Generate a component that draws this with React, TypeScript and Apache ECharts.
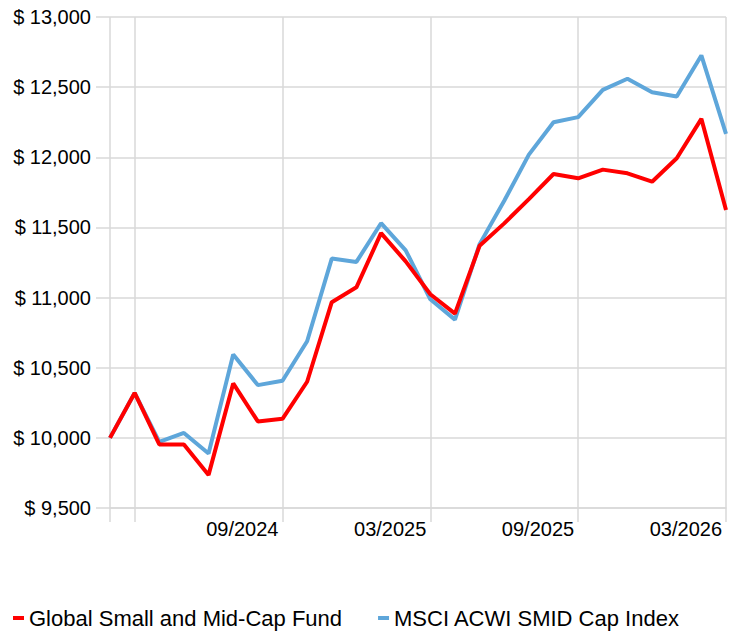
import React, { useEffect, useRef } from "react";
import * as echarts from "echarts";

const months = [
  "02/2024", "03/2024", "04/2024", "05/2024", "06/2024", "07/2024", "08/2024",
  "09/2024", "10/2024", "11/2024", "12/2024", "01/2025", "02/2025", "03/2025",
  "04/2025", "05/2025", "06/2025", "07/2025", "08/2025", "09/2025", "10/2025",
  "11/2025", "12/2025", "01/2026", "02/2026", "03/2026",
];

const fundName = "Global Small and Mid-Cap Fund";
const indexName = "MSCI ACWI SMID Cap Index";

const fundValues = [
  10000, 10320, 9953, 9953, 9736, 10388, 10117, 10136, 10400, 10967, 11073,
  11459, 11258, 11024, 10886, 11369, 11529, 11702, 11881, 11850, 11912, 11886,
  11826, 11993, 12274, 11624,
];

const indexValues = [
  10000, 10320, 9972, 10035, 9889, 10595, 10376, 10407, 10689, 11278, 11254,
  11530, 11337, 10988, 10843, 11381, 11690, 12019, 12250, 12286, 12481, 12560,
  12464, 12433, 12726, 12167,
];

const labelIdx = [7, 13, 19, 25];
const tickIdx = [0, 1, 7, 13, 19, 25];

const FONT = "'Liberation Sans', Arial, sans-serif";
const GRID = "#d9d9d9";

export default function App() {
  const ref = useRef<HTMLDivElement>(null);
  useEffect(() => {
    if (!ref.current) return;
    const chart = echarts.init(ref.current, undefined, { renderer: "svg" });
    chart.setOption({
      animation: false,
      textStyle: { fontFamily: FONT },
      grid: { left: 110, right: 14, top: 17, bottom: 126, containLabel: false },
      legend: {
        left: 13,
        top: 607,
        padding: 0,
        icon: "rect",
        itemWidth: 11,
        itemHeight: 4,
        itemGap: 36,
        data: [fundName, indexName],
        textStyle: { fontSize: 22, color: "#000", fontFamily: FONT },
      },
      xAxis: {
        type: "category",
        boundaryGap: false,
        data: months,
        axisLine: { show: true, lineStyle: { color: GRID, width: 1.5 } },
        axisTick: {
          show: true,
          length: 14,
          interval: (i: number) => tickIdx.includes(i),
          lineStyle: { color: GRID, width: 1.5 },
        },
        splitLine: {
          show: true,
          interval: (i: number) => tickIdx.includes(i),
          lineStyle: { color: GRID, width: 1.5 },
        },
        axisLabel: {
          interval: (i: number) => labelIdx.includes(i),
          align: "right",
          padding: [0, 4, 0, 0],
          margin: 11,
          fontSize: 20,
          color: "#000",
          fontFamily: FONT,
        },
      },
      yAxis: {
        type: "value",
        min: 9500,
        max: 13000,
        interval: 500,
        axisLine: { show: false },
        axisTick: { show: true, length: 14, lineStyle: { color: GRID, width: 1.5 } },
        splitLine: { show: true, lineStyle: { color: GRID, width: 1.5 } },
        axisLabel: {
          margin: 19,
          fontSize: 20,
          color: "#000",
          fontFamily: FONT,
          formatter: (v: number) => "$ " + v.toLocaleString("en-US"),
        },
      },
      series: [
        {
          name: fundName,
          type: "line",
          data: fundValues,
          showSymbol: false,
          symbol: "none",
          z: 3,
          lineStyle: { color: "#ff0000", width: 4 },
          itemStyle: { color: "#ff0000" },
        },
        {
          name: indexName,
          type: "line",
          data: indexValues,
          showSymbol: false,
          symbol: "none",
          z: 2,
          lineStyle: { color: "#5ea6da", width: 4 },
          itemStyle: { color: "#5ea6da" },
        },
      ],
    });
    return () => chart.dispose();
  }, []);
  return (
    <div
      ref={ref}
      style={{ position: "absolute", left: 0, top: 0, width: 740, height: 634 }}
    />
  );
}
